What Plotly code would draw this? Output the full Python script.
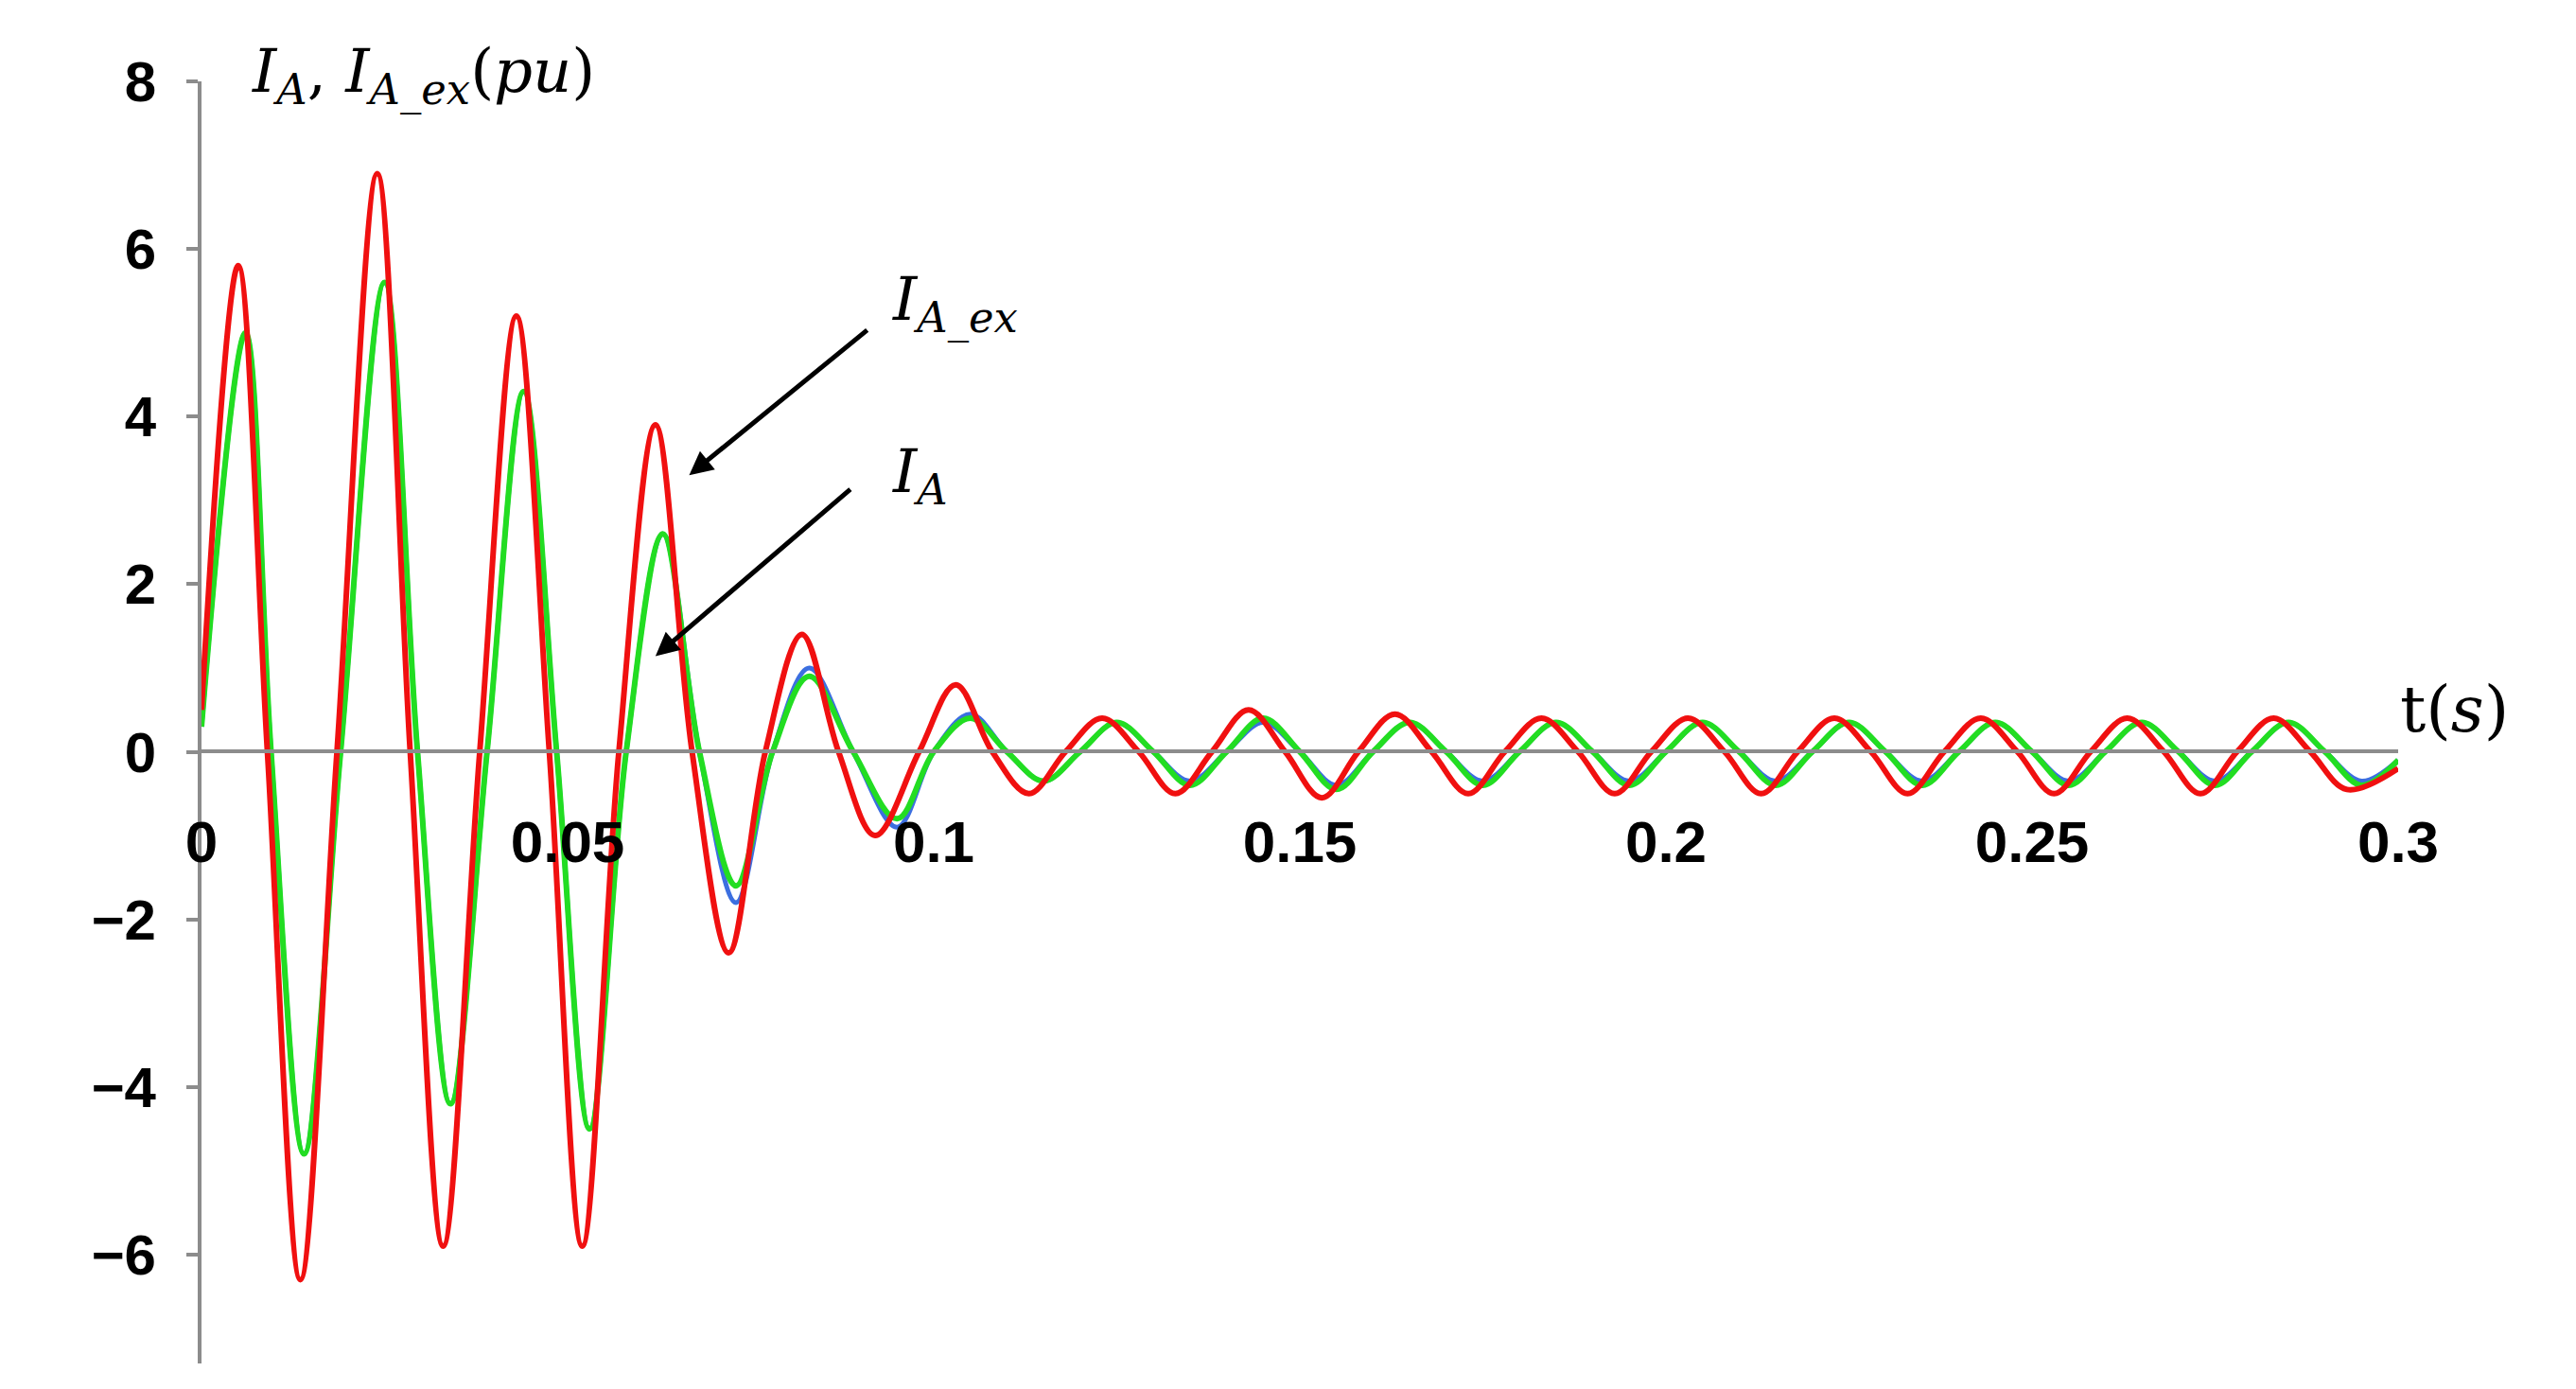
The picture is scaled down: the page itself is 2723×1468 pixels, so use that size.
import plotly.graph_objects as go

# Red: I_A_ex  (extrema and zero crossings)
t_red = [0, 0.005, 0.009, 0.0135, 0.0185, 0.024, 0.0285, 0.033, 0.038, 0.043, 0.0475, 0.052, 0.057,
         0.062, 0.067, 0.072, 0.077, 0.082, 0.087, 0.092, 0.098, 0.103, 0.108, 0.113, 0.118, 0.123,
         0.128, 0.133, 0.138, 0.143, 0.148, 0.153, 0.158, 0.163, 0.168, 0.173, 0.178, 0.183, 0.188,
         0.193, 0.198, 0.203, 0.208, 0.213, 0.218, 0.223, 0.228, 0.233, 0.238, 0.243, 0.248, 0.253,
         0.258, 0.263, 0.268, 0.273, 0.278, 0.283, 0.288, 0.293, 0.3]
v_red = [0.5, 5.8, 0, -6.3, 0, 6.9, 0, -5.9, 0, 5.2, 0, -5.9, 0,
         3.9, 0, -2.4, 0, 1.4, 0, -1.0, 0, 0.8, 0, -0.5, 0, 0.4,
         0, -0.5, 0, 0.5, 0, -0.55, 0, 0.45, 0, -0.5, 0, 0.4, 0,
         -0.5, 0, 0.4, 0, -0.5, 0, 0.4, 0, -0.5, 0, 0.4, 0, -0.5,
         0, 0.4, 0, -0.5, 0, 0.4, 0, -0.45, -0.2]

# Blue: reference I_A
t_blue = [0, 0.006, 0.0095, 0.014, 0.019, 0.025, 0.0295, 0.034, 0.039, 0.044, 0.0485, 0.053, 0.058,
          0.063, 0.068, 0.073, 0.078, 0.083, 0.089, 0.095, 0.1, 0.105, 0.11, 0.115, 0.12, 0.125,
          0.13, 0.135, 0.14, 0.145, 0.15, 0.155, 0.16, 0.165, 0.17, 0.175, 0.18, 0.185, 0.19,
          0.195, 0.2, 0.205, 0.21, 0.215, 0.22, 0.225, 0.23, 0.235, 0.24, 0.245, 0.25, 0.255,
          0.26, 0.265, 0.27, 0.275, 0.28, 0.285, 0.29, 0.295, 0.3]
v_blue = [0.3, 5.0, 0, -4.8, 0, 5.6, 0, -4.2, 0, 4.3, 0, -4.5, 0,
          2.6, 0, -1.8, 0, 1.0, 0, -0.9, 0, 0.45, 0, -0.35, 0, 0.35,
          0, -0.35, 0, 0.35, 0, -0.4, 0, 0.35, 0, -0.35, 0, 0.35, 0,
          -0.35, 0, 0.35, 0, -0.35, 0, 0.35, 0, -0.35, 0, 0.35, 0, -0.35,
          0, 0.35, 0, -0.35, 0, 0.35, 0, -0.35, -0.1]

# Green: I_A
t_green = t_blue
v_green = [0.3, 5.0, 0, -4.8, 0, 5.6, 0, -4.2, 0, 4.3, 0, -4.5, 0,
           2.6, 0, -1.6, 0, 0.9, 0, -0.8, 0, 0.4, 0, -0.35, 0, 0.35,
           0, -0.4, 0, 0.4, 0, -0.45, 0, 0.35, 0, -0.4, 0, 0.35, 0,
           -0.4, 0, 0.35, 0, -0.4, 0, 0.35, 0, -0.4, 0, 0.35, 0, -0.4,
           0, 0.35, 0, -0.4, 0, 0.35, 0, -0.4, -0.1]

x_ticks = [0, 0.05, 0.1, 0.15, 0.2, 0.25, 0.3]
x_labels = ["0", "0.05", "0.1", "0.15", "0.2", "0.25", "0.3"]
y_ticks = [-6, -4, -2, 0, 2, 4, 6, 8]
y_labels = ["−6", "−4", "−2", "0", "2", "4", "6", "8"]

fig = go.Figure()
fig.add_trace(go.Scatter(x=t_blue, y=v_blue, mode="lines", line=dict(color="#3c6fe0", width=5, shape="spline")))
fig.add_trace(go.Scatter(x=t_green, y=v_green, mode="lines", line=dict(color="#22dd22", width=6, shape="spline")))
fig.add_trace(go.Scatter(x=t_red, y=v_red, mode="lines", line=dict(color="#f01010", width=6, shape="spline")))

serif = "DejaVu Serif"
fig.add_annotation(x=0.022, y=1.005, xref="paper", yref="paper", xanchor="left", yanchor="middle", showarrow=False,
                   text="<i>I</i><sub><i>A</i></sub>, <i>I</i><sub><i>A_ex</i></sub>(<i>pu</i>)",
                   font=dict(family=serif, size=64, color="black"))
fig.add_annotation(x=1.0, y=0.51, xref="paper", yref="paper", xanchor="left", yanchor="middle", showarrow=False,
                   text="t(<i>s</i>)", font=dict(family=serif, size=68, color="black"))
fig.add_annotation(x=0.094, y=5.35, xref="x", yref="y", xanchor="left", showarrow=False,
                   text="<i>I</i><sub><i>A_ex</i></sub>", font=dict(family=serif, size=64, color="black"))
fig.add_annotation(x=0.094, y=3.3, xref="x", yref="y", xanchor="left", showarrow=False,
                   text="<i>I</i><sub><i>A</i></sub>", font=dict(family=serif, size=64, color="black"))
fig.add_annotation(x=0.0666, y=3.3, ax=0.0913, ay=5.06, xref="x", yref="y", axref="x", ayref="y",
                   showarrow=True, arrowhead=2, arrowsize=1, arrowwidth=5, arrowcolor="black", text=" ")
fig.add_annotation(x=0.062, y=1.14, ax=0.089, ay=3.16, xref="x", yref="y", axref="x", ayref="y",
                   showarrow=True, arrowhead=2, arrowsize=1, arrowwidth=5, arrowcolor="black", text=" ")

fig.update_layout(
    width=2723, height=1468, showlegend=False,
    paper_bgcolor="white", plot_bgcolor="white",
    margin=dict(l=205, r=196, t=78, b=35),
    xaxis=dict(range=[0, 0.3], tickvals=x_ticks, ticktext=x_labels, anchor="free", position=7.3 / 15.3,
               showline=True, linecolor="#8c8c8c", linewidth=4, showgrid=False, zeroline=False,
               ticks="", ticklabelstandoff=40,
               tickfont=dict(family="Liberation Sans", size=62, color="black", weight="bold")),
    yaxis=dict(range=[-7.3, 8], tickvals=y_ticks, ticktext=y_labels, showline=True, linecolor="#8c8c8c",
               linewidth=4, showgrid=False, zeroline=False, ticks="outside", ticklen=12, tickwidth=4,
               tickcolor="#8c8c8c", ticklabelstandoff=20,
               tickfont=dict(family="Liberation Sans", size=60, color="black", weight="bold")),
)
fig.write_html("out.html")
